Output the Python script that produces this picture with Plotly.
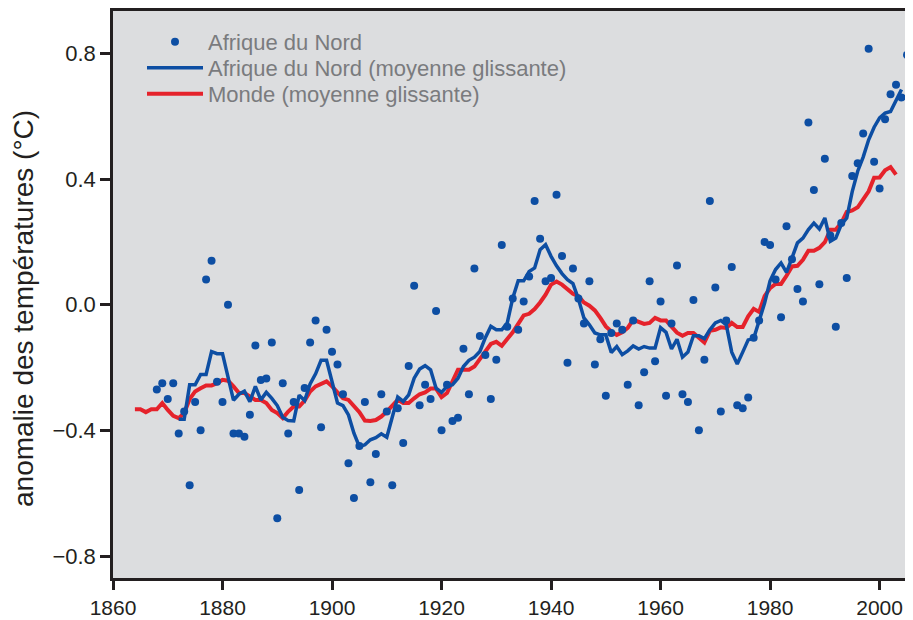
import plotly.graph_objects as go

# ---- data ----
na_years = list(range(1868, 2006))
na_values = [
    -0.27, -0.25, -0.30, -0.25, -0.41, -0.34, -0.575, -0.31, -0.40, 0.08,   # 1868-1877
    0.14, -0.245, -0.31, 0.00, -0.41, -0.41, -0.42, -0.35, -0.13, -0.24,    # 1878-1887
    -0.235, -0.12, -0.68, -0.25, -0.41, -0.31, -0.59, -0.265, -0.12, -0.05, # 1888-1897
    -0.39, -0.08, -0.15, -0.19, -0.285, -0.505, -0.615, -0.45, -0.31, -0.565,  # 1898-1907
    -0.475, -0.285, -0.34, -0.575, -0.33, -0.44, -0.195, 0.06, -0.32, -0.255,  # 1908-1917
    -0.30, -0.02, -0.40, -0.255, -0.37, -0.36, -0.14, -0.285, 0.115, -0.10,    # 1918-1927
    -0.16, -0.30, -0.175, 0.19, -0.07, 0.02, -0.08, 0.01, 0.09, 0.33,          # 1928-1937
    0.21, 0.075, 0.085, 0.35, 0.155, -0.185, 0.115, 0.02, -0.06, 0.075,        # 1938-1947
    -0.19, -0.11, -0.29, -0.09, -0.06, -0.08, -0.255, -0.05, -0.32, -0.215,    # 1948-1957
    0.075, -0.18, 0.01, -0.29, -0.06, 0.125, -0.285, -0.31, 0.015, -0.40,      # 1958-1967
    -0.175, 0.33, 0.055, -0.34, -0.05, 0.12, -0.32, -0.33, -0.295, -0.105,     # 1968-1977
    -0.05, 0.20, 0.19, 0.08, -0.04, 0.25, 0.145, 0.05, 0.01, 0.58,             # 1978-1987
    0.365, 0.065, 0.465, 0.22, -0.07, 0.26, 0.085, 0.41, 0.45, 0.545,          # 1988-1997
    0.815, 0.455, 0.37, 0.59, 0.67, 0.70, 0.66, 0.795,                         # 1998-2005
]

na_ma_years = list(range(1872, 2005))
na_ma_values = [
    -0.365, -0.365, -0.255, -0.255, -0.222, -0.222, -0.149, -0.156, -0.156, -0.235,  # 1872-1881
    -0.304, -0.285, -0.275, -0.309, -0.260, -0.303, -0.279, -0.298, -0.321, -0.358,  # 1882-1891
    -0.369, -0.370, -0.288, -0.305, -0.252, -0.220, -0.177, -0.177, -0.244, -0.313,  # 1892-1901
    -0.321, -0.351, -0.409, -0.452, -0.446, -0.430, -0.423, -0.411, -0.422, -0.356,  # 1902-1911
    -0.294, -0.308, -0.287, -0.234, -0.205, -0.194, -0.207, -0.266, -0.279, -0.260,  # 1912-1921
    -0.255, -0.234, -0.197, -0.177, -0.167, -0.149, -0.105, -0.069, -0.080, -0.080,  # 1922-1931
    -0.058, 0.021, 0.076, 0.076, 0.106, 0.117, 0.175, 0.191, 0.154, 0.124,           # 1932-1941
    0.099, 0.080, 0.067, 0.018, -0.042, -0.064, -0.090, -0.096, -0.096, -0.152,      # 1942-1951
    -0.133, -0.159, -0.147, -0.131, -0.141, -0.133, -0.138, -0.138, -0.073, -0.088,  # 1952-1961
    -0.141, -0.110, -0.167, -0.151, -0.099, -0.099, -0.108, -0.080, -0.058, -0.050,  # 1962-1971
    -0.064, -0.151, -0.189, -0.151, -0.112, -0.108, -0.048, 0.005, 0.076, 0.112,     # 1972-1981
    0.133, 0.103, 0.149, 0.197, 0.212, 0.239, 0.260, 0.241, 0.276, 0.202,            # 1982-1991
    0.212, 0.255, 0.276, 0.360, 0.425, 0.470, 0.525, 0.565, 0.595, 0.610,            # 1992-2001
    0.615, 0.650, 0.685,                                                             # 2002-2004
]

world_ma_years = list(range(1864, 2004))
world_ma_values = [
    -0.333, -0.333, -0.342, -0.333, -0.333, -0.313, -0.335, -0.354, -0.361, -0.345,  # 1864-1873
    -0.300, -0.276, -0.266, -0.257, -0.257, -0.250, -0.239, -0.242, -0.260, -0.281,  # 1874-1883
    -0.281, -0.292, -0.303, -0.303, -0.313, -0.335, -0.345, -0.361, -0.340, -0.324,  # 1884-1893
    -0.324, -0.305, -0.276, -0.260, -0.253, -0.244, -0.260, -0.281, -0.298, -0.303,  # 1894-1903
    -0.324, -0.342, -0.369, -0.370, -0.367, -0.356, -0.340, -0.322, -0.303, -0.313,  # 1904-1913
    -0.313, -0.298, -0.285, -0.279, -0.267, -0.267, -0.294, -0.281, -0.244, -0.207,  # 1914-1923
    -0.207, -0.207, -0.197, -0.172, -0.145, -0.125, -0.118, -0.131, -0.109, -0.088,  # 1924-1933
    -0.061, -0.034, -0.029, -0.014, 0.007, 0.032, 0.064, 0.074, 0.064, 0.048,        # 1934-1943
    0.035, 0.027, 0.007, -0.003, -0.018, -0.042, -0.069, -0.085, -0.096, -0.088,     # 1944-1953
    -0.074, -0.048, -0.055, -0.061, -0.058, -0.042, -0.050, -0.050, -0.070, -0.089,  # 1954-1963
    -0.099, -0.090, -0.090, -0.104, -0.120, -0.083, -0.080, -0.072, -0.074, -0.058,  # 1964-1973
    -0.071, -0.071, -0.037, -0.013, -0.023, 0.027, 0.053, 0.066, 0.066, 0.092,       # 1974-1983
    0.122, 0.124, 0.143, 0.172, 0.172, 0.181, 0.199, 0.239, 0.239, 0.260,            # 1984-1993
    0.295, 0.300, 0.310, 0.335, 0.361, 0.404, 0.405, 0.428, 0.438, 0.414,            # 1994-2003
]

x_ticks = [1860, 1880, 1900, 1920, 1940, 1960, 1980, 2000]
y_ticks = [-0.8, -0.4, 0.0, 0.4, 0.8]

legend_names = ["Afrique du Nord",
                "Afrique du Nord (moyenne glissante)",
                "Monde (moyenne glissante)"]
y_title = "anomalie des températures (°C)"

BLUE = "#0d4ea3"
RED = "#e5222b"
AXIS = "#231f20"
LEG = "#7a7b7e"
FONT = "Liberation Sans, Arial, sans-serif"

# The page body has an 8 px margin, so the figure is drawn 8 px smaller
# with margins reduced accordingly to land the plot area where the reference has it.
W, H = 905, 612
ML, MR, MT, MB = 105, 0, 3, 42

fig = go.Figure()
fig.add_trace(go.Scatter(x=world_ma_years, y=world_ma_values, mode="lines",
                         name=legend_names[2], legend="legend3",
                         line=dict(color=RED, width=4)))
fig.add_trace(go.Scatter(x=na_ma_years, y=na_ma_values, mode="lines",
                         name=legend_names[1], legend="legend2",
                         line=dict(color=BLUE, width=3.5)))
fig.add_trace(go.Scatter(x=na_years, y=na_values, mode="markers",
                         name=legend_names[0], legend="legend",
                         marker=dict(color=BLUE, size=8, line=dict(width=0))))

plot_h = H - MT - MB
plot_w = W - ML - MR
def row_y(py):
    # screen pixel row (page coords) -> paper y
    return (H - MB + 8 - py) / plot_h

leg_common = dict(x=(142 - 8 - ML) / plot_w, xanchor="left", yanchor="middle",
                  bgcolor="rgba(0,0,0,0)", itemwidth=56,
                  font=dict(size=22, color=LEG, family=FONT))

fig.update_layout(
    width=W, height=H,
    margin=dict(l=ML, r=MR, t=MT, b=MB, autoexpand=False),
    paper_bgcolor="white",
    plot_bgcolor="#dcdddf",
    font=dict(family=FONT, color=AXIS, size=22),
    showlegend=True,
    legend=dict(y=row_y(42), **leg_common),
    legend2=dict(y=row_y(68), **leg_common),
    legend3=dict(y=row_y(94), **leg_common),
    xaxis=dict(range=[1860, 2006.1], tickvals=x_ticks, ticks="outside",
               ticklen=9, tickwidth=2.5, tickcolor=AXIS,
               showline=True, linewidth=2.5, linecolor=AXIS, mirror=True,
               showgrid=False, zeroline=False, automargin=False,
               tickfont=dict(size=21, color=AXIS, family=FONT)),
    yaxis=dict(range=[-0.87, 0.935], tickvals=y_ticks, tickformat=".1f",
               ticks="outside", ticklen=10, tickwidth=2.5, tickcolor=AXIS,
               showline=True, linewidth=2.5, linecolor=AXIS,
               showgrid=False, zeroline=False, automargin=False,
               tickfont=dict(size=22, color=AXIS, family=FONT)),
    annotations=[dict(text=y_title, xref="paper", yref="paper",
                      x=(23 - 8 - ML) / plot_w, y=row_y(309),
                      xanchor="center", yanchor="middle",
                      textangle=-90, showarrow=False,
                      font=dict(size=28, color=AXIS, family=FONT))],
)

fig.write_html("out.html")
